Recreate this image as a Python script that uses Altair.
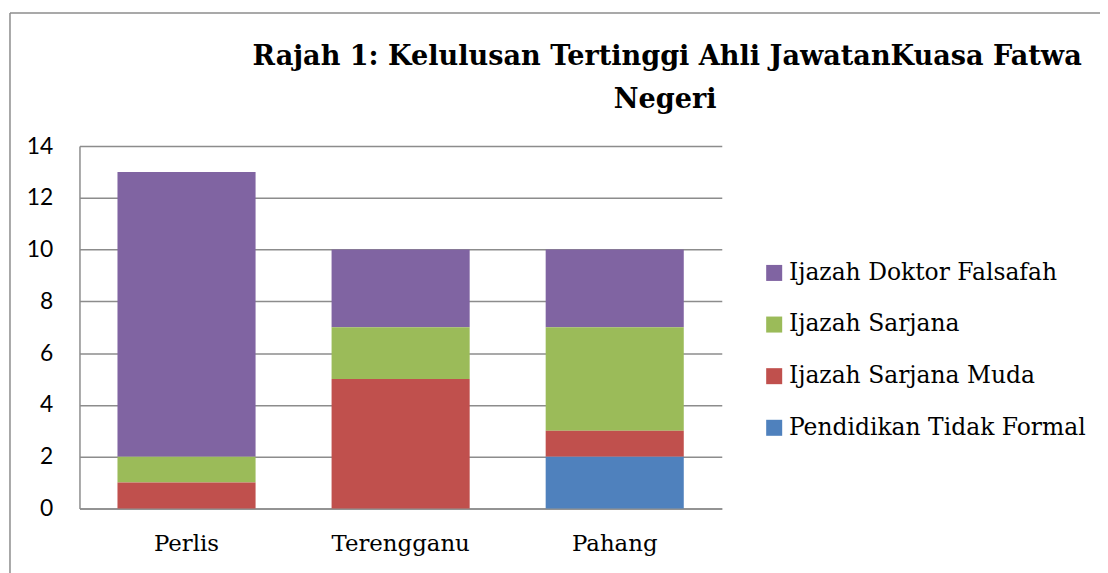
import altair as alt
import pandas as pd

states = ["Perlis", "Terengganu", "Pahang"]
series = ["Ijazah Doktor Falsafah", "Ijazah Sarjana", "Ijazah Sarjana Muda", "Pendidikan Tidak Formal"]
colors = ["#8064A2", "#9BBB59", "#C0504D", "#4F81BD"]
doktor_falsafah = [11, 3, 3]
sarjana = [1, 2, 4]
sarjana_muda = [1, 5, 1]
tidak_formal = [0, 0, 2]
y_ticks = [0, 2, 4, 6, 8, 10, 12, 14]
title_lines = ["Rajah 1: Kelulusan Tertinggi Ahli JawatanKuasa Fatwa", "Negeri"]

values_by_series = [doktor_falsafah, sarjana, sarjana_muda, tidak_formal]
rows = []
for si, (name, vals) in enumerate(zip(series, values_by_series)):
    for st, v in zip(states, vals):
        rows.append({"Negeri": st, "Kelulusan": name, "Bilangan": v, "stack": len(series) - 1 - si})
df = pd.DataFrame(rows)

W, H = 647, 365
PAD = {"left": 72, "top": 137, "right": 381, "bottom": 63}

bars = alt.Chart(df).mark_bar(stroke=None).encode(
    x=alt.X("Negeri:N", sort=states,
            scale=alt.Scale(paddingInner=0.355, paddingOuter=0.1775),
            axis=alt.Axis(title=None, labelAngle=0, labelFont="DejaVu Serif", labelFontSize=23,
                          labelColor="#000000", labelPadding=24, ticks=False,
                          domainColor="#8c8c8c", domainWidth=1.5)),
    y=alt.Y("sum(Bilangan):Q",
            scale=alt.Scale(domain=[0, 14], nice=False),
            axis=alt.Axis(title=None, values=y_ticks, labelFont="Lato", labelFontSize=23,
                          labelColor="#000000", labelPadding=27, ticks=False,
                          grid=True, gridColor="#8c8c8c", gridWidth=1.5,
                          domainColor="#8c8c8c", domainWidth=1.5)),
    color=alt.Color("Kelulusan:N",
                    scale=alt.Scale(domain=series, range=colors),
                    legend=alt.Legend(title=None, orient="none", legendX=688, legendY=116,
                                      symbolType="square", symbolSize=260, symbolStrokeWidth=0,
                                      labelFont="DejaVu Serif", labelFontSize=23.6, labelColor="#000000",
                                      rowPadding=27, labelOffset=3, labelLimit=400)),
    order=alt.Order("stack:Q", sort="ascending"),
)

one = pd.DataFrame({"a": [0]})
frame_v = alt.Chart(one).mark_rule(color="#8c8c8c", strokeWidth=1.5).encode(
    x=alt.value(-70), y=alt.value(-134), y2=alt.value(700))
frame_h = alt.Chart(one).mark_rule(color="#8c8c8c", strokeWidth=1.5).encode(
    x=alt.value(-70), x2=alt.value(1200), y=alt.value(-134))

title1 = alt.Chart(one).mark_text(text=title_lines[0], font="DejaVu Serif", fontWeight="bold",
                                  fontSize=27.3, color="#000000", align="center",
                                  baseline="alphabetic").encode(x=alt.value(592), y=alt.value(-82))
title2 = alt.Chart(one).mark_text(text=title_lines[1], font="DejaVu Serif", fontWeight="bold",
                                  fontSize=27.3, color="#000000", align="center",
                                  baseline="alphabetic").encode(x=alt.value(590), y=alt.value(-38))

chart = alt.layer(bars, frame_v, frame_h, title1, title2).properties(
    width=W, height=H,
    autosize=alt.AutoSizeParams(type="none"),
    padding=PAD,
    background="#ffffff",
).configure_view(stroke=None)

chart.save("out.html", embed_options={"renderer": "svg", "actions": False})
